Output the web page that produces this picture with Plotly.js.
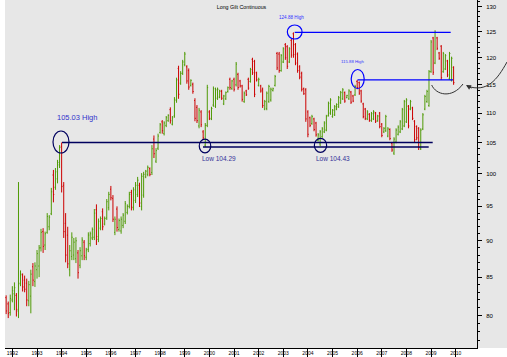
<!DOCTYPE html>
<html><head><meta charset="utf-8">
<script src="https://cdn.plot.ly/plotly-3.0.1.min.js"></script>
<style>html,body{margin:0;padding:0;background:#fff}#chart{width:507px;height:357px}</style>
</head><body><div id="chart"></div>
<script>
// Monthly bars, first bar = October 1991
const firstYear = 1991, firstMonth = 10;
const open = [
82.3,81.5,80.4,82.0,82.8,82.6,80.6,84.2,85.3,84.6,
84.2,81.9,82.5,86.4,84.4,86.0,86.5,89.0,91.3,89.4,
91.2,92.0,93.9,99.8,97.9,99.2,101.4,104.4,98.2,92.5,
90.8,86.0,87.8,88.0,87.5,88.3,86.6,87.9,89.8,87.7,
88.8,89.6,90.4,90.5,94.5,90.2,91.8,94.2,92.4,93.3,
94.8,97.6,96.2,91.2,94.6,91.6,91.4,92.2,92.8,94.1,
95.0,97.1,94.8,95.9,96.8,98.2,95.0,96.7,99.5,99.9,
100.8,100.2,105.6,102.0,104.1,106.7,108.5,106.5,107.9,108.7,
110.6,108.1,109.5,112.2,118.0,115.3,117.1,118.7,118.3,117.6,
114.9,115.1,112.2,111.0,107.8,110.2,106.8,104.6,107.9,110.2,
109.0,111.4,111.2,112.6,112.8,113.8,111.6,112.5,113.8,116.0,
114.3,116.0,115.0,116.9,115.7,114.8,112.0,113.9,116.0,115.6,
119.7,119.3,117.2,114.9,114.8,114.2,110.7,110.8,112.0,112.3,
114.0,114.9,120.8,120.7,117.6,119.2,122.5,122.1,119.2,123.3,
124.6,122.5,120.7,118.3,117.1,114.3,114.1,110.2,109.2,108.2,
109.0,108.3,105.4,104.8,106.0,106.8,107.1,109.6,110.0,109.4,
109.7,110.7,111.1,111.8,112.5,113.6,112.7,112.5,113.7,113.0,
113.2,115.6,115.4,113.9,111.6,110.7,109.0,109.8,108.7,109.0,
110.0,108.7,110.0,108.1,106.8,107.0,106.1,107.2,104.9,103.3,
105.1,106.4,106.8,107.3,107.8,108.5,111.2,110.7,110.9,108.6,
107.7,107.4,104.0,107.3,110.7,112.0,111.3,117.4,123.8,119.0,
123.8,120.9,122.2,117.4,117.9,119.4,116.1,115.8,118.2];
const high = [
82.6,81.8,82.7,83.8,84.3,82.9,98.7,85.9,85.5,85.2,
84.8,84.5,86.0,86.9,87.0,88.7,89.4,91.7,91.8,91.3,
94.0,93.7,97.8,100.6,100.9,102.2,104.6,105.03,98.7,94.0,
92.0,89.4,91.2,90.4,90.5,88.7,89.1,90.5,90.1,89.0,
91.2,91.3,91.9,94.6,95.3,93.2,93.5,94.7,93.5,96.1,
97.2,98.1,96.7,93.5,95.0,93.2,93.5,94.0,95.8,95.3,
97.2,97.5,97.9,98.7,99.5,98.6,100.1,100.3,100.6,101.3,
101.0,104.6,106.2,104.1,106.5,108.3,108.8,108.6,109.5,109.8,
111.0,109.5,112.8,116.3,118.5,117.5,119.6,121.1,118.6,118.0,
116.0,115.4,112.6,111.4,110.9,110.5,107.1,108.3,115.0,110.5,
111.1,114.7,114.5,114.5,114.1,114.1,113.2,113.8,114.7,116.3,
115.9,116.3,119.2,117.2,115.9,115.0,113.8,114.1,116.3,118.1,
120.0,119.6,117.4,116.3,115.0,114.5,112.3,113.8,115.0,114.5,
114.5,116.8,121.1,121.1,120.7,122.0,122.8,122.4,122.0,123.6,
124.88,122.8,121.0,118.6,117.4,114.5,114.4,110.5,109.4,109.7,
109.2,108.5,106.6,107.1,107.6,108.6,109.7,112.0,112.6,110.7,
111.4,111.7,113.0,113.9,114.4,113.8,113.2,114.2,113.9,113.2,
115.0,115.88,115.6,114.1,111.8,110.9,110.5,110.0,110.2,110.5,
110.2,109.7,110.2,108.3,107.6,109.7,107.6,107.4,105.1,105.9,
107.4,107.9,108.8,110.9,112.3,112.6,111.4,112.3,111.1,108.8,
107.9,107.6,107.4,110.0,113.2,114.1,117.7,123.4,124.0,125.3,
124.0,121.1,122.4,121.1,120.7,119.6,121.1,120.2,118.4];
const low = [
80.2,79.7,80.0,81.7,80.7,79.9,79.7,83.8,83.1,83.0,
81.2,81.2,80.3,83.8,83.7,84.8,85.0,88.5,88.3,88.7,
91.0,91.5,93.7,95.6,97.5,98.5,100.9,97.1,90.4,87.0,
86.2,85.1,87.3,87.3,86.9,84.8,86.2,87.3,87.3,87.3,
88.4,89.2,90.1,90.1,89.4,89.8,91.5,91.5,92.2,93.0,
94.4,95.9,92.7,90.8,91.3,91.3,91.0,91.8,92.4,93.8,
94.7,94.4,94.4,95.5,96.4,94.9,94.4,96.3,99.3,99.6,
99.6,99.8,102.5,101.7,103.8,106.5,106.5,106.2,107.6,108.5,
108.2,107.9,109.2,111.8,112.5,115.0,116.8,118.4,115.2,114.1,
114.7,113.4,108.6,108.3,107.4,107.6,105.5,104.29,107.6,108.8,
108.8,111.1,110.9,112.3,112.6,112.3,111.4,112.3,113.6,114.1,
114.1,113.8,114.7,114.1,114.5,112.0,111.8,113.0,114.1,115.4,
116.8,112.8,115.6,114.7,113.6,110.9,110.5,110.5,111.8,112.0,
113.8,114.7,117.7,117.2,117.4,119.0,119.6,117.9,119.0,120.0,
120.0,118.6,117.2,116.0,113.8,113.2,108.5,105.9,107.6,108.0,
106.9,106.0,105.2,104.43,105.8,106.6,106.9,109.4,109.7,109.2,
109.5,110.5,110.9,111.6,112.3,111.8,112.6,112.3,111.6,111.9,
113.0,114.2,113.2,111.8,109.1,108.8,108.8,108.5,108.5,108.8,
108.3,108.5,107.4,105.9,106.6,106.8,105.9,105.4,103.5,103.0,
104.9,106.2,106.6,107.1,107.6,108.3,107.4,110.5,108.8,105.1,
105.4,103.8,103.8,107.1,110.5,111.8,111.1,117.2,116.8,118.8,
121.45,119.6,115.9,117.2,117.7,116.4,115.9,115.6,115.0];
const close = [
80.6,80.3,82.2,83.2,83.6,80.8,84.1,85.4,83.7,83.4,
82.0,84.0,85.4,84.6,86.5,88.2,89.0,91.2,89.2,91.0,
93.5,93.4,97.2,96.8,100.3,101.8,104.2,98.0,91.3,88.0,
86.8,88.6,90.5,89.8,90.0,85.6,88.6,90.1,87.9,88.7,
90.8,91.0,91.6,94.0,90.6,92.8,93.2,92.0,93.2,95.7,
96.8,96.3,93.1,93.1,91.9,92.9,93.1,93.7,95.4,95.0,
96.8,94.9,97.5,98.2,99.0,95.5,99.6,99.9,100.4,101.0,
99.9,104.0,103.2,103.7,106.1,108.0,107.0,108.3,109.2,109.6,
108.7,109.2,112.4,115.9,113.3,117.1,119.2,120.7,115.7,114.6,
115.8,113.8,109.1,108.7,110.5,108.0,105.8,107.9,114.5,109.1,
110.8,114.3,114.1,114.2,113.9,112.6,113.0,113.6,114.5,114.5,
115.7,114.2,118.8,114.5,114.8,112.4,113.5,113.2,114.4,117.8,
117.2,113.3,115.9,116.0,113.9,111.3,112.0,113.5,114.7,114.2,
114.3,116.5,118.1,117.6,120.4,121.7,120.0,118.4,121.7,120.5,
120.6,119.0,117.6,116.4,114.2,113.4,109.0,106.4,107.9,109.4,
107.2,106.3,106.3,106.8,107.3,108.3,109.4,111.7,112.3,110.5,
111.1,111.5,112.7,113.6,114.1,112.1,113.1,113.9,111.9,112.1,
114.7,114.5,113.5,112.1,109.4,109.1,110.2,108.8,109.9,110.2,
108.6,109.5,107.7,106.2,107.4,109.4,107.3,105.7,103.8,105.6,
107.1,107.6,108.5,110.6,112.0,112.3,107.8,112.0,109.1,105.5,
105.8,104.2,107.1,109.7,112.9,113.8,117.4,123.0,117.3,124.9,
121.8,119.9,116.3,120.8,120.4,116.8,120.8,119.9,115.4];

const yTicks = [80,85,90,95,100,105,110,115,120,125,130];
const levels = {high1994:105.03, low1999:104.29, low2004:104.43, high2003:124.88, high2006:115.88};

const months = [];
for (let i = 0; i < open.length; i++) {
  const m = firstMonth - 1 + i;
  const y = firstYear + Math.floor(m / 12);
  months.push(y + '-' + String(m % 12 + 1).padStart(2, '0') + '-01');
}
const minorVals = [];
for (let v = 77; v <= 131; v++) if (v % 5) minorVals.push(v);

// pixel -> paper helpers for hand-drawn annotation marks (plot area 5..477 x 0..348)
const L = 5, R = 477, T = 0, B = 348;
const px = x => (x - L) / (R - L);
const py = y => 1 - (y - T) / (B - T);
function ell(cx, cy, w, h, color) {
  return {type:'circle', xref:'paper', yref:'paper', x0:px(cx - w/2), x1:px(cx + w/2),
          y0:py(cy + h/2), y1:py(cy - h/2), line:{color:color, width:1.2}};
}
function pathP(pts) {
  let s = '', i = 0;
  while (i < pts.length) {
    const t = pts[i++]; s += t;
    const cnt = t === 'M' ? 1 : 3;
    for (let k = 0; k < cnt; k++) { s += ' ' + px(pts[i]).toFixed(4) + ',' + py(pts[i+1]).toFixed(4); i += 2; }
    s += ' ';
  }
  return s.trim();
}

const navy = '#00005e', blue = '#0000ff';
const shapes = [
  {type:'rect', xref:'paper', yref:'paper', x0:1, x1:px(507), y0:0, y1:1, fillcolor:'#e7e7e7', line:{width:0}, layer:'below'},
  {type:'line', xref:'paper', yref:'y', x0:px(62), x1:px(432.7), y0:levels.high1994, y1:levels.high1994, line:{color:navy, width:1.3}},
  {type:'line', xref:'paper', yref:'y', x0:px(203), x1:px(428.7), y0:levels.low1999, y1:levels.low1999, line:{color:navy, width:1.3}},
  {type:'line', xref:'paper', yref:'y', x0:px(294.7), x1:px(450.7), y0:levels.high2003, y1:levels.high2003, line:{color:blue, width:1.3}},
  {type:'line', xref:'paper', yref:'y', x0:px(357.5), x1:px(453), y0:levels.high2006, y1:levels.high2006, line:{color:blue, width:1.3}},
  ell(61, 142, 16, 22, navy),
  ell(205, 146, 11.5, 13.7, navy),
  ell(320.5, 145.3, 12.3, 14, navy),
  ell(294.7, 32, 14.7, 14, blue),
  ell(357.7, 79, 13, 19, blue),
  {type:'path', xref:'paper', yref:'paper', path:pathP(['M',431.7,85,'C',436,95,452,99,463,84]), line:{color:'#333', width:1}},
  {type:'path', xref:'paper', yref:'paper', path:pathP(['M',507,62,'C',497,80,487,93,467,86]), line:{color:'#333', width:1}}
];

const txtFont = 'Liberation Sans, Arial, sans-serif';
const annotations = [
  {xref:'paper', yref:'paper', x:px(55), y:py(117), xanchor:'left', yanchor:'middle', text:'105.03 High', showarrow:false, font:{family:txtFont, size:7.5, color:'#3333cc'}},
  {xref:'paper', yref:'paper', x:px(199.5), y:py(158.7), xanchor:'left', yanchor:'middle', text:'Low 104.29', showarrow:false, font:{family:txtFont, size:6.5, color:'#333399'}},
  {xref:'paper', yref:'paper', x:px(314), y:py(158.5), xanchor:'left', yanchor:'middle', text:'Low 104.43', showarrow:false, font:{family:txtFont, size:6.5, color:'#333399'}},
  {xref:'paper', yref:'paper', x:px(291.5), y:py(17.3), xanchor:'center', yanchor:'middle', text:'124.88 High', showarrow:false, font:{family:txtFont, size:4.6, color:'#3333ff'}},
  {xref:'paper', yref:'paper', x:px(352.5), y:py(61.7), xanchor:'center', yanchor:'middle', text:'115.88 High', showarrow:false, font:{family:txtFont, size:4.3, color:'#3333ff'}},
  {xref:'paper', yref:'paper', x:px(466), y:py(85), text:'', showarrow:true, ax:7, ay:4, arrowhead:2, arrowsize:1, arrowwidth:1, arrowcolor:'#333'}
];

const trace = {
  type:'ohlc', x:months, open:open, high:high, low:low, close:close,
  increasing:{line:{color:'#4f9a06', width:1}},
  decreasing:{line:{color:'#cc0000', width:1}},
  tickwidth:0.45, hoverinfo:'none', showlegend:false
};

const layout = {
  width:507, height:357,
  margin:{l:L, r:507-R, t:T, b:357-B, pad:0},
  paper_bgcolor:'#ffffff', plot_bgcolor:'#e7e7e7',
  font:{family:txtFont, color:'#000'},
  title:{text:'Long Gilt Continuous', x:241.5/507, xanchor:'center', y:1-7/357, yanchor:'middle', font:{family:txtFont, size:5.3, color:'#000'}},
  showlegend:false,
  xaxis:{type:'date', range:['1991-09-14','2010-11-13'], rangeslider:{visible:false},
         tick0:'1992-01-01', dtick:'M12', tickformat:'%Y', ticks:'outside', ticklen:8, tickcolor:'#000', tickwidth:1,
         ticklabelshift:6.5, ticklabelstandoff:-8,
         tickfont:{family:txtFont, size:5, color:'#000'}, showgrid:false, zeroline:false,
         showline:true, linecolor:'#000', linewidth:1, automargin:false, fixedrange:true},
  yaxis:{type:'log', side:'right', range:[Math.log10(76.04), Math.log10(131.4)],
         tickmode:'array', tickvals:yTicks, ticktext:yTicks.map(String), ticks:'outside', ticklen:4, tickcolor:'#000',
         ticklabelstandoff:3,
         minor:{tickmode:'array', tickvals:minorVals, ticks:'outside', ticklen:2, tickcolor:'#000', showgrid:false},
         tickfont:{family:txtFont, size:6, color:'#000'}, showgrid:false, zeroline:false,
         showline:true, linecolor:'#000', linewidth:1, automargin:false, fixedrange:true},
  shapes:shapes, annotations:annotations
};

Plotly.newPlot('chart', [trace], layout, {staticPlot:true, displayModeBar:false});
</script></body></html>
